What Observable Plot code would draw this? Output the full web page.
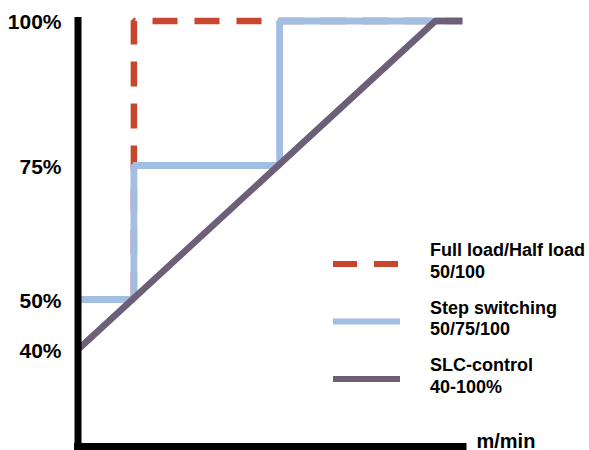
<!DOCTYPE html>
<html><head><meta charset="utf-8">
<script src="https://cdn.jsdelivr.net/npm/d3@7"></script>
<script src="https://cdn.jsdelivr.net/npm/@observablehq/plot@0.6"></script>
<style>
html,body{margin:0;padding:0;background:#fff;}
#wrap{position:relative;width:589px;height:450px;overflow:hidden;}
#wrap svg{position:absolute;left:0;top:0;}
</style></head><body><div id="wrap"></div>
<script>
// Schematic speed (m/min) positions and load levels (%)
const fullLoadX = [0, 14.5, 14.5, 99.7];
const fullLoadY = [50, 50, 100, 100];
const stepX = [0, 14.5, 14.5, 52.3, 52.3, 99.7];
const stepY = [50, 50, 75, 75, 100, 100];
const slcX = [0, 92.7, 99.7];
const slcY = [40, 100, 100];
const yTicks = [40, 50, 75, 100];
const xAxisLabel = "m/min";
const seriesLabels = [
  ["Full load/Half load", "50/100"],
  ["Step switching", "50/75/100"],
  ["SLC-control", "40-100%"]
];

// styles
const colors = ["#c9462e", "#a3bee3", "#6e5f79"];
const font = "'Liberation Sans', Arial, Helvetica, sans-serif";

// the schematic's non-uniform % axis (piecewise)
const yWarp = d3.scaleLinear().domain([20, 40, 50, 75, 100]).range([0, 97, 147, 281, 425.5]);

const pts = (xs, ys) => xs.map((x, i) => ({x, y: ys[i]}));

const chart = Plot.plot({
  width: 589, height: 450, margin: 0,
  style: {fontFamily: font, background: "#fff", color: "#000"},
  x: {domain: [0, 100], range: [77.5, 463], axis: null},
  y: {transform: yWarp, domain: [0, 425.5], range: [446, 20.5], axis: null},
  marks: [
    Plot.line(pts(fullLoadX, fullLoadY), {x: "x", y: "y", stroke: colors[0], strokeWidth: 6.5,
      strokeDasharray: "25,17", strokeDashoffset: 25, strokeLinejoin: "miter", strokeLinecap: "butt"}),
    Plot.line(pts(stepX, stepY), {x: "x", y: "y", stroke: colors[1], strokeWidth: 6.8,
      strokeLinejoin: "miter", strokeLinecap: "butt"}),
    Plot.line(pts(slcX, slcY), {x: "x", y: "y", stroke: colors[2], strokeWidth: 6.5,
      strokeLinejoin: "miter", strokeLinecap: "butt"}),
    Plot.ruleX([0], {y1: 20, y2: 100, stroke: "#000", strokeWidth: 7, strokeLinecap: "square"}),
    Plot.ruleY([20], {x1: 0, x2: 100, stroke: "#000", strokeWidth: 7, strokeLinecap: "square"}),
    Plot.text(yTicks, {x: 0, y: d => d, text: d => d + "%", textAnchor: "end", dx: -16.5, dy: 1.5,
      fontSize: 21, fontWeight: "bold", fill: "#000"}),
    Plot.text([xAxisLabel], {x: 100, y: 20, text: d => d, textAnchor: "start", lineAnchor: "bottom",
      dx: 13, dy: 1, fontSize: 20, fontWeight: "bold", fill: "#000"})
  ]
});
document.getElementById("wrap").appendChild(chart);

// legend overlay
const leg = d3.select("#wrap").append("svg").attr("width", 589).attr("height", 450)
  .style("pointer-events", "none").style("font-family", font);
const legSwatchX1 = 333, legSwatchX2 = 400, legTextX = 430, legTop = 264, legStep = 57.5;
seriesLabels.forEach((lines, i) => {
  const cy = legTop + i * legStep;
  leg.append("line").attr("x1", legSwatchX1).attr("x2", legSwatchX2).attr("y1", cy).attr("y2", cy)
    .attr("stroke", colors[i]).attr("stroke-width", 6)
    .attr("stroke-dasharray", i === 0 ? "24,17" : null);
  lines.forEach((t, j) => {
    leg.append("text").attr("x", legTextX).attr("y", cy - 8 + j * 21.5)
      .attr("font-size", 18).attr("font-weight", "bold").attr("fill", "#000").text(t);
  });
});
</script>
</body></html>
